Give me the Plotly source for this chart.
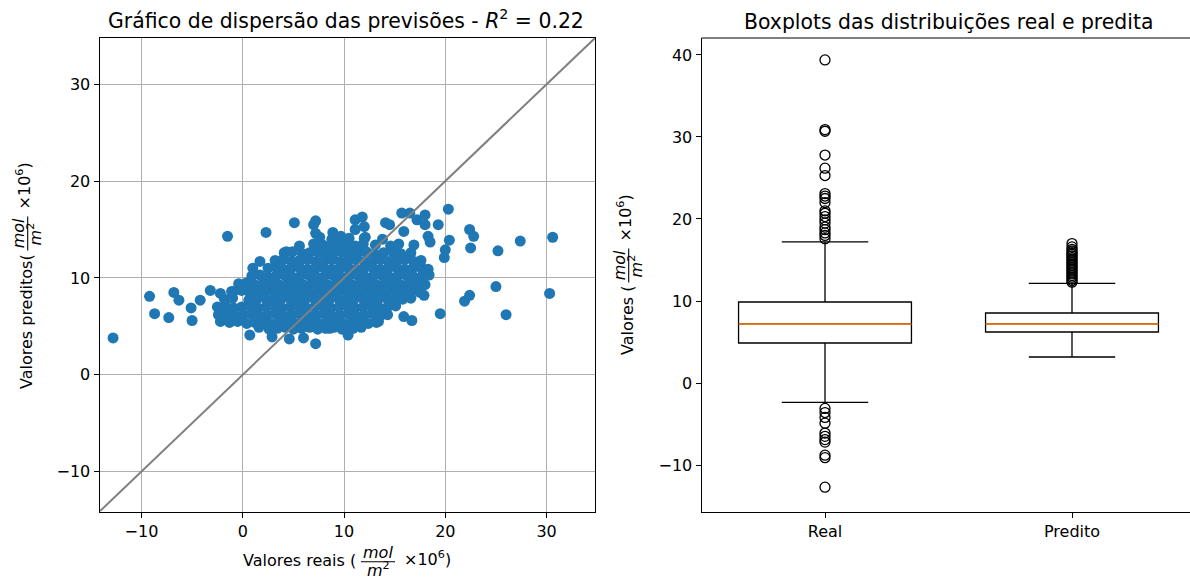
import plotly.graph_objects as go

# ---------------- data ----------------
# scatter: real (x) vs predicted (y)
real_vals = [
    # isolated points
    -12.8, -9.2, -8.7, -7.3, -6.8, -6.3, -5.1, -5.0, -4.2, -3.2, -2.2, -1.5, -2.2, -2.2, -1.1,
    0.7, 1.0, 1.7, 2.3, 2.9, 4.3, 5.1, 4.6, 6.0, 7.0, 7.2, 7.2, 7.2, 8.9, 8.6, 10.4, 10.9,
    11.1, 11.8, 11.1, 12.0, 12.0, 13.4, 14.1, 14.5, 15.7, 16.5, 15.9, 15.9, 16.7, 17.2, 18.0,
    18.0, 19.3, 20.3, 18.3, 18.5, 20.4, 20.0, 19.9, 18.1, 17.9, 19.5, 22.4, 22.8, 22.5, 22.4,
    21.9, 25.2, 25.0, 26.0, 27.4, 30.6, 30.3,
    # dense cloud, row by row
    7.6, 8.8, 9.7, 10.5, 12.1, 13.8,
    5.6, 7.0, 7.9, 8.7, 9.5, 10.3, 11.1, 11.9, 13.1, 14.6, 15.4, 16.9,
    4.1, 4.9, 5.9, 6.6, 7.4, 8.2, 9.0, 9.8, 10.6, 11.4, 12.2, 13.0, 13.9, 14.8, 15.6, 16.6,
    3.2, 4.0, 4.8, 5.6, 6.4, 7.2, 8.0, 8.8, 9.6, 10.4, 11.2, 12.0, 12.8, 13.6, 14.4, 15.2, 16.0, 16.9, 17.6,
    2.5, 3.3, 4.0, 4.8, 5.6, 6.4, 7.2, 8.0, 8.8, 9.6, 10.4, 11.2, 12.0, 12.8, 13.6, 14.4, 15.2, 16.0, 16.8, 17.6, 18.3,
    0.9, 1.7, 2.5, 3.3, 4.1, 4.9, 5.7, 6.5, 7.3, 8.1, 8.9, 9.7, 10.5, 11.3, 12.1, 12.9, 13.7, 14.5, 15.3, 16.1, 16.9, 17.7, 18.4,
    -0.4, 0.4, 1.2, 2.0, 2.8, 3.6, 4.4, 5.2, 6.0, 6.8, 7.6, 8.4, 9.2, 10.0, 10.8, 11.6, 12.4, 13.2, 14.0, 14.8, 15.6, 16.4, 17.2, 18.0,
    -0.9, -0.1, 0.7, 1.5, 2.3, 3.1, 3.9, 4.7, 5.5, 6.3, 7.1, 7.9, 8.7, 9.5, 10.3, 11.1, 11.9, 12.7, 13.5, 14.3, 15.1, 15.9, 16.7, 17.5,
    -1.8, -1.0, 0.6, 1.4, 2.2, 3.0, 3.8, 4.6, 5.4, 6.2, 7.0, 7.8, 8.6, 9.4, 10.2, 11.0, 11.8, 12.6, 13.4, 14.2, 15.0, 15.8, 16.6,
    -2.5, -1.7, -0.9, -0.1, 0.7, 1.5, 2.3, 3.1, 3.9, 4.7, 5.5, 6.3, 7.1, 7.9, 8.7, 9.5, 10.3, 11.1, 11.9, 12.7, 13.5, 14.3, 15.1,
    -2.4, -1.6, -0.8, 0.0, 0.8, 1.6, 2.4, 3.2, 4.0, 4.8, 5.6, 6.4, 7.2, 8.0, 8.8, 9.6, 10.4, 11.2, 12.0, 12.8, 13.6, 14.3,
    -1.3, -0.5, 0.4, 1.2, 2.0, 2.8, 3.6, 4.4, 5.2, 6.0, 6.8, 7.6, 8.4, 9.2, 10.0, 10.8, 11.6, 12.4, 13.2,
    1.6, 2.6, 3.4, 4.2, 5.0, 5.8, 6.6, 7.4, 8.2, 9.0, 9.8, 10.7, 11.7,
]
pred_vals = [
    3.8, 8.1, 6.3, 5.9, 8.5, 7.7, 6.9, 5.6, 7.7, 8.7, 8.4, 14.3, 6.3, 5.5, 8.6,
    4.1, 11.0, 11.7, 14.7, 3.9, 12.7, 15.7, 3.7, 3.8, 15.5, 15.9, 14.6, 3.2, 14.7, 4.8, 4.1, 4.8,
    16.0, 16.3, 15.0, 15.3, 14.1, 5.5, 15.7, 15.5, 16.7, 16.7, 14.8, 6.0, 5.6, 16.0, 16.5,
    15.5, 15.5, 17.1, 14.3, 13.7, 13.9, 12.9, 12.1, 10.6, 8.2, 6.3, 15.0, 14.3, 13.1, 8.2,
    7.6, 12.8, 9.1, 6.2, 13.8, 14.2, 8.4,
    14.2, 14.0, 14.3, 14.1, 14.2, 14.0,
    13.3, 13.5, 13.4, 13.3, 13.5, 13.4, 13.3, 13.5, 13.4, 13.3, 13.5, 13.4,
    12.6, 12.7, 12.5, 12.6, 12.7, 12.5, 12.6, 12.7, 12.5, 12.6, 12.7, 12.5, 12.6, 12.7, 12.5, 12.6,
    11.8, 11.9, 11.7, 11.8, 11.9, 11.7, 11.8, 11.9, 11.7, 11.8, 11.9, 11.7, 11.8, 11.9, 11.7, 11.8, 11.9, 11.7, 11.8,
    11.0, 11.1, 10.9, 11.0, 11.1, 10.9, 11.0, 11.1, 10.9, 11.0, 11.1, 10.9, 11.0, 11.1, 10.9, 11.0, 11.1, 10.9, 11.0, 11.1, 10.9,
    10.2, 10.3, 10.1, 10.2, 10.3, 10.1, 10.2, 10.3, 10.1, 10.2, 10.3, 10.1, 10.2, 10.3, 10.1, 10.2, 10.3, 10.1, 10.2, 10.3, 10.1, 10.2, 10.3,
    9.4, 9.5, 9.3, 9.4, 9.5, 9.3, 9.4, 9.5, 9.3, 9.4, 9.5, 9.3, 9.4, 9.5, 9.3, 9.4, 9.5, 9.3, 9.4, 9.5, 9.3, 9.4, 9.5, 9.3,
    8.6, 8.7, 8.5, 8.6, 8.7, 8.5, 8.6, 8.7, 8.5, 8.6, 8.7, 8.5, 8.6, 8.7, 8.5, 8.6, 8.7, 8.5, 8.6, 8.7, 8.5, 8.6, 8.7, 8.5,
    7.8, 7.9, 7.7, 7.8, 7.9, 7.7, 7.8, 7.9, 7.7, 7.8, 7.9, 7.7, 7.8, 7.9, 7.7, 7.8, 7.9, 7.7, 7.8, 7.9, 7.7, 7.8, 7.9,
    7.0, 7.1, 6.9, 7.0, 7.1, 6.9, 7.0, 7.1, 6.9, 7.0, 7.1, 6.9, 7.0, 7.1, 6.9, 7.0, 7.1, 6.9, 7.0, 7.1, 6.9, 7.0, 7.1,
    6.2, 6.3, 6.1, 6.2, 6.3, 6.1, 6.2, 6.3, 6.1, 6.2, 6.3, 6.1, 6.2, 6.3, 6.1, 6.2, 6.3, 6.1, 6.2, 6.3, 6.1, 6.2,
    5.4, 5.5, 5.3, 5.4, 5.5, 5.3, 5.4, 5.5, 5.3, 5.4, 5.5, 5.3, 5.4, 5.5, 5.3, 5.4, 5.5, 5.3, 5.4,
    4.9, 4.7, 4.8, 4.9, 4.7, 4.8, 4.9, 4.7, 4.8, 4.9, 4.7, 4.8, 4.9,
]
axis_lim = [-14.14, 34.78]
scatter_ticks = [-10, 0, 10, 20, 30]

# boxplots (summary statistics)
box_labels = ["Real", "Predito"]
box_pos = [1, 2]
box_q1 = [4.88, 6.22]
box_median = [7.2, 7.2]
box_q3 = [9.88, 8.54]
box_low = [-2.36, 3.17]
box_high = [17.2, 12.16]
real_outliers = [17.6, 18.0, 18.3, 18.7, 19.0, 19.5, 19.9, 20.3, 20.7, 21.0, 22.0, 22.5,
                 22.8, 23.1, 25.3, 26.2, 27.8, 30.7, 30.9, 39.4,
                 -3.1, -3.6, -4.2, -4.9, -6.1, -6.5, -6.9, -7.2, -8.8, -9.1, -12.7]
pred_outliers = [12.3, 12.5, 12.7, 12.9, 13.1, 13.3, 13.5, 13.7, 13.9, 14.1, 14.3, 14.5,
                 14.7, 14.9, 15.1, 15.3, 15.5, 15.7, 15.9, 16.1, 16.3, 16.6, 17.0]
box_yticks = [-10, 0, 10, 20, 30, 40]
box_yrange = [-15.68, 42.07]

# ---------------- layout helpers ----------------
W, H = 1190, 581
FONT = "DejaVu Sans"
def px(x):
    return x / W
def py(y):
    return 1 - y / H

BOX_W = 0.7

fig = go.Figure()

fig.add_trace(go.Scatter(
    x=real_vals, y=pred_vals, mode="markers",
    marker=dict(color="#1f77b4", size=11, line=dict(width=0)),
    xaxis="x", yaxis="y", showlegend=False, hoverinfo="skip"))
fig.add_trace(go.Scatter(
    x=axis_lim, y=axis_lim, mode="lines",
    line=dict(color="#808080", width=2),
    xaxis="x", yaxis="y", showlegend=False, hoverinfo="skip"))

for i in range(len(box_labels)):
    fig.add_trace(go.Box(
        x=[box_pos[i]], q1=[box_q1[i]], median=[box_median[i]], q3=[box_q3[i]],
        lowerfence=[box_low[i]], upperfence=[box_high[i]],
        width=BOX_W, whiskerwidth=0.5, boxpoints=False,
        line=dict(color="black", width=1.3), fillcolor="rgba(0,0,0,0)",
        xaxis="x2", yaxis="y2", showlegend=False, hoverinfo="skip"))
for i in range(len(box_labels)):
    fig.add_trace(go.Scatter(
        x=[box_pos[i] - BOX_W / 2, box_pos[i] + BOX_W / 2],
        y=[box_median[i], box_median[i]], mode="lines",
        line=dict(color="#ff7f0e", width=1.5),
        xaxis="x2", yaxis="y2", showlegend=False, hoverinfo="skip"))
for pos, vals in zip(box_pos, [real_outliers, pred_outliers]):
    fig.add_trace(go.Scatter(
        x=[pos] * len(vals), y=vals, mode="markers",
        marker=dict(symbol="circle-open", size=10, color="black", line=dict(width=1.3)),
        xaxis="x2", yaxis="y2", showlegend=False, hoverinfo="skip"))

ax_common = dict(showline=True, linecolor="black", linewidth=1, ticks="outside",
                 ticklen=5, tickwidth=1, tickcolor="black", zeroline=False,
                 tickfont=dict(family=FONT, size=16, color="black"))

top_px, bot_px = 38, 511.6
fig.update_layout(
    width=W, height=H, margin=dict(l=0, r=0, t=0, b=0),
    paper_bgcolor="white", plot_bgcolor="white", boxmode="overlay",
    font=dict(family=FONT, size=16, color="black"),
    xaxis=dict(domain=[px(99.5), px(595)], range=axis_lim, tickvals=scatter_ticks,
               showgrid=True, gridcolor="#b0b0b0", gridwidth=1, mirror=True,
               anchor="y", **ax_common),
    yaxis=dict(domain=[py(bot_px), py(top_px)], range=axis_lim, tickvals=scatter_ticks,
               showgrid=True, gridcolor="#b0b0b0", gridwidth=1, mirror=True,
               anchor="x", **ax_common),
    xaxis2=dict(domain=[px(701.5), 1.0], range=[0.5, 0.5 + (W - 701.5) / 247.0],
                tickvals=box_pos, ticktext=box_labels, showgrid=False, mirror=False,
                anchor="y2", **ax_common),
    yaxis2=dict(domain=[py(bot_px), py(top_px)], range=box_yrange, tickvals=box_yticks,
                showgrid=False, mirror=False, anchor="x2", **ax_common),
)

# top spine of right panel (right spine lies beyond the picture edge)
shapes = [dict(type="line", xref="x2 domain", yref="y2 domain", x0=0, x1=1, y0=1, y1=1,
               line=dict(color="black", width=1))]

ann = []
def text(t, x, y, size=16, angle=0, xanchor="center", yanchor="middle"):
    ann.append(dict(text=t, x=px(x), y=py(y), xref="paper", yref="paper",
                    showarrow=False, textangle=angle, xanchor=xanchor, yanchor=yanchor,
                    font=dict(family=FONT, size=size, color="black")))

# titles
text("Gráfico de dispersão das previsões - <i>R</i><sup>2</sup> = 0.22", 346, 19, size=20.4)
text("Boxplots das distribuições real e predita", 948.5, 22, size=20.4)

# x label (left panel)
text("Valores reais (", 358.3, 560.5, xanchor="right")
text("<i>mol</i>", 378, 552.8)
text("<i>m</i><sup>2</sup>", 378, 569)
shapes.append(dict(type="line", xref="paper", yref="paper", x0=px(361), x1=px(395),
                   y0=py(561.7), y1=py(561.7), line=dict(color="black", width=1.1)))
text("×10<sup>6</sup>)", 401.7, 558, xanchor="left")

# y labels (rotated)
def ylabel(x_main, y_main1, y_frac, y_main2):
    text(y_main1[0], x_main, y_main1[1], angle=-90)
    text("<i>mol</i>", x_main - 7.7, y_frac, angle=-90)
    text("<i>m</i><sup>2</sup>", x_main + 8.4, y_frac, angle=-90)
    shapes.append(dict(type="line", xref="paper", yref="paper",
                       x0=px(x_main + 1.2), x1=px(x_main + 1.2),
                       y0=py(y_frac - 17), y1=py(y_frac + 17),
                       line=dict(color="black", width=1.1)))
    text("×10<sup>6</sup>)", x_main - 2.6, y_main2, angle=-90)

ylabel(26.5, ("Valores preditos(", 321.5), 233.5, 185.5)
ylabel(627.5, ("Valores (", 320.5), 265.5, 217.5)

fig.update_layout(annotations=ann, shapes=shapes)
fig.write_html("out.html", config={"displayModeBar": False},
               post_script="document.body.style.margin='0';document.body.style.overflow='hidden';")
